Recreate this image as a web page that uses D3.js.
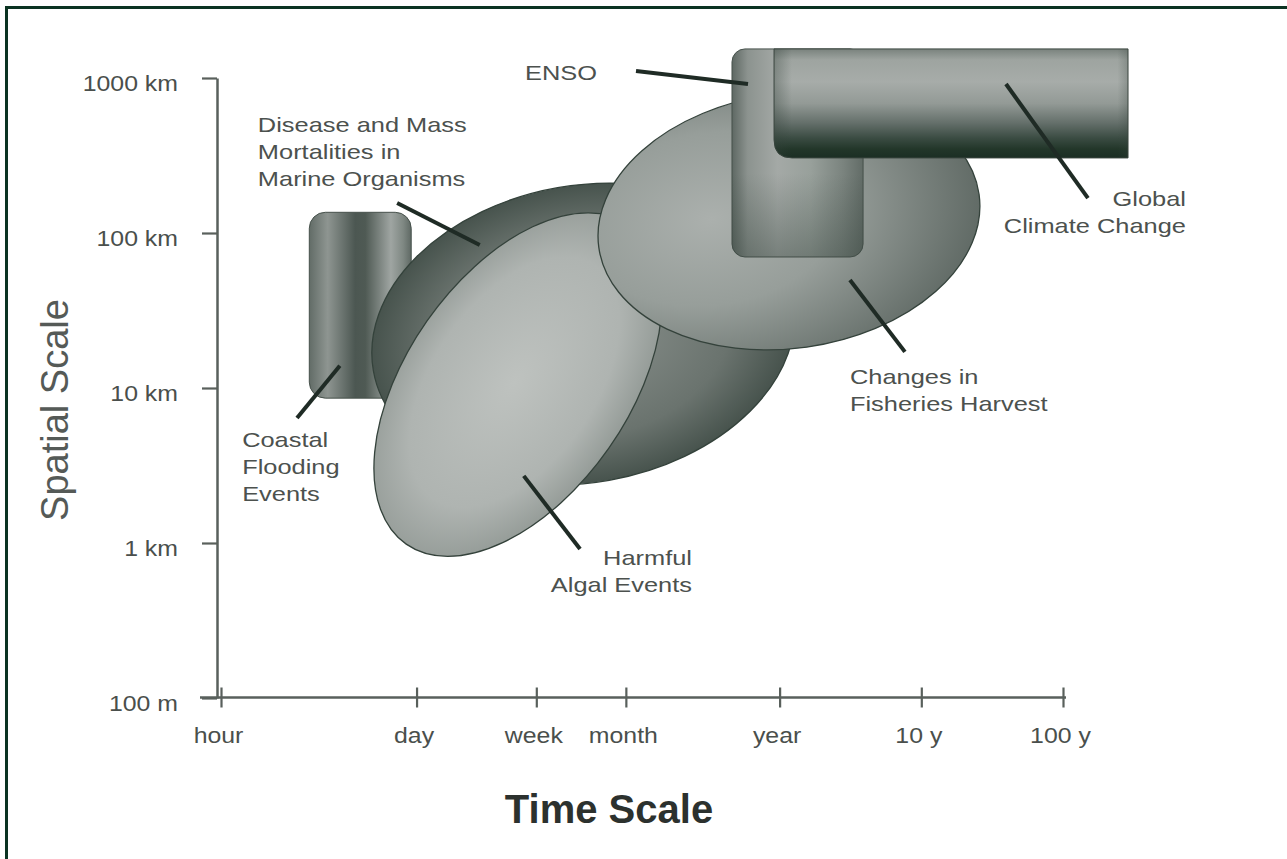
<!DOCTYPE html>
<html>
<head>
<meta charset="utf-8">
<title>Time and space scales of marine events</title>
<script src="https://cdn.jsdelivr.net/npm/d3@7/dist/d3.min.js"></script>
<style>
	body { margin: 0; background: #fff; }
	svg text { font-family: "Liberation Sans", Arial, Helvetica, sans-serif; }
</style>
</head>
<body>
<svg id="chart"></svg>
<script>

// axis ticks: time in hours, space in km
var timeTicks = ['hour', 'day', 'week', 'month', 'year', '10 y', '100 y'];
var timeTickHours = [1, 24, 168, 720, 8760, 87600, 876000];
var spaceTicks = ['1000 km', '100 km', '10 km', '1 km', '100 m'];
var spaceTickKm = [1000, 100, 10, 1, 0.1];

// phenomena, in drawing order (back to front)
var phenomena = ['Coastal Flooding Events', 'Disease and Mass Mortalities in Marine Organisms', 'Harmful Algal Events', 'Changes in Fisheries Harvest', 'ENSO', 'Global Climate Change'];
var shapeKind = ['rect', 'ellipse', 'ellipse', 'ellipse', 'rect', 'bar'];
var timeExtent = [[4.2, 22], [11.6, 11240], [12, 1295], [458, 227000], [4040, 34000], [8000, 2520000]];
var spaceExtent = [[8.6, 136], [2.37, 210], [0.82, 135], [17.6, 812], [70, 1540], [305, 1540]];
var tilt = [0, -10, -55, -8, 0, 0];

// annotation text and leaders, also in hours / km
var labelLines = [['Coastal', 'Flooding', 'Events'], ['Disease and Mass', 'Mortalities in', 'Marine Organisms'], ['Harmful', 'Algal Events'], ['Changes in', 'Fisheries Harvest'], ['ENSO'], ['Global', 'Climate Change']];
var labelAt = [[1.41, 4.16], [1.82, 449], [2109, 0.721], [27480, 10.6], [140, 971], [6460000, 149]];
var labelAnchor = ['start', 'start', 'end', 'start', 'start', 'end'];
var leaderFrom = [[6.9, 13.9], [67, 83.7], [137, 2.71], [27480, 49.8], [5240, 915], [346700, 915]];
var leaderTo = [[3.44, 6.4], [17.5, 156], [342, 0.914], [67140, 17.1], [849, 1110], [1314000, 168]];

var chart = {

	settings: {
		width: 1287,
		height: 859,
		tickStretch: 1.13,
		labelStretch: 1.21,
		lineHeight: 27
	},

	init: function() {
		this.svg = d3.select('#chart')
			.attr('width', this.settings.width)
			.attr('height', this.settings.height);

		this.x = d3.scaleLog().domain([1, 876000]).range([221, 1063]);
		this.y = d3.scaleLog().domain([0.1, 1000]).range([698, 78]);

		this.frame();
		this.axes();
		this.shapes();
		this.labels();
	},

	frame: function() {
		let s = this.settings;
		this.svg.append('rect').attr('x', 5).attr('y', 6).attr('width', s.width - 5).attr('height', 3).attr('fill', '#0b3322');
		this.svg.append('rect').attr('x', 5).attr('y', 6).attr('width', 3).attr('height', s.height - 6).attr('fill', '#0b3322');
	},

	axes: function() {
		let self = this;
		let stretch = this.settings.tickStretch;
		let axisX = 217, axisY = 697.5;

		// 1. spatial axis
		let gy = this.svg.append('g')
			.attr('transform', 'translate(' + axisX + ',0)')
			.call(d3.axisLeft(this.y).tickValues(spaceTickKm).tickSize(15).tickSizeOuter(0)
				.tickFormat(function(d, i) { return spaceTicks[i]; }));

		gy.select('.domain').attr('stroke', '#59605c').attr('stroke-width', 2.5);
		gy.selectAll('.tick line').attr('stroke', '#59605c').attr('stroke-width', 2.2);
		gy.selectAll('.tick text')
			.attr('x', null).attr('dy', null)
			.attr('transform', 'translate(-39,12) scale(' + stretch + ',1)')
			.attr('font-size', 22).attr('fill', '#4a4f4c');

		// 2. time axis, ticks cross the line
		let gx = this.svg.append('g')
			.attr('transform', 'translate(0,' + axisY + ')')
			.call(d3.axisBottom(this.x).tickValues(timeTickHours).tickSize(10)
				.tickFormat(function(d, i) { return timeTicks[i]; }));

		gx.select('.domain').remove();
		gx.insert('line', ':first-child')
			.attr('x1', axisX - 17).attr('x2', this.x(876000) + 3)
			.attr('stroke', '#59605c').attr('stroke-width', 2.5);
		gx.selectAll('.tick line').attr('y1', -10).attr('y2', 10).attr('stroke', '#59605c').attr('stroke-width', 2.2);
		gx.selectAll('.tick text')
			.attr('y', null).attr('dy', null)
			.attr('transform', 'translate(-3,45) scale(' + stretch + ',1)')
			.attr('font-size', 22).attr('fill', '#4a4f4c');

		// 3. axis titles
		this.svg.append('text')
			.attr('transform', 'translate(68,410) rotate(-90)')
			.attr('text-anchor', 'middle')
			.attr('font-size', 38).attr('fill', '#555a57')
			.text('Spatial Scale');

		this.svg.append('text')
			.attr('x', 609).attr('y', 823)
			.attr('text-anchor', 'middle')
			.attr('font-size', 40).attr('font-weight', 'bold').attr('fill', '#2c312e')
			.text('Time Scale');
	},

	shapes: function() {
		let self = this;
		let defs = this.svg.append('defs');

		let linear = function(id, vertical, stops) {
			let g = defs.append('linearGradient').attr('id', id);
			if (vertical) g.attr('x1', 0).attr('y1', 0).attr('x2', 0).attr('y2', 1);
			stops.forEach(function(s) {
				g.append('stop').attr('offset', s[0]).attr('stop-color', s[1]).attr('stop-opacity', s.length > 2 ? s[2] : 1);
			});
		};
		let radial = function(id, c, stops) {
			let g = defs.append('radialGradient').attr('id', id)
				.attr('cx', c[0]).attr('cy', c[1]).attr('r', c[2]).attr('fx', c[0]).attr('fy', c[1]);
			stops.forEach(function(s) {
				g.append('stop').attr('offset', s[0]).attr('stop-color', s[1]);
			});
		};

		linear('shade-0', false, [[0, '#626c67'], [0.18, '#8e9591'], [0.45, '#4c5752'], [0.55, '#4f5a54'], [0.8, '#9fa5a2'], [0.92, '#7f8883'], [1, '#5f6964']]);
		radial('shade-1', [0.5, 0.5, 0.5], [[0, '#8b928e'], [0.7, '#6a736e'], [1, '#47534d']]);
		radial('shade-2', [0.5, 0.48, 0.52], [[0, '#bec2bf'], [0.7, '#afb4b1'], [1, '#959c98']]);
		radial('shade-3', [0.3, 0.45, 0.75], [[0, '#abb0ad'], [0.45, '#979e9a'], [1, '#5b6560']]);
		linear('shade-4', false, [[0, '#5e6863'], [0.12, '#8c938f'], [0.35, '#a4a9a6'], [0.6, '#98a09b'], [0.85, '#7a837e'], [1, '#626c67']]);
		linear('shade-4b', true, [[0, '#34423b', 0], [0.6, '#34423b', 0], [1, '#34423b', 0.4]]);
		linear('shade-5', true, [[0, '#79827d'], [0.1, '#9ea4a0'], [0.3, '#a7aca9'], [0.5, '#939a96'], [0.68, '#646f6a'], [0.82, '#3a4b42'], [0.92, '#223629'], [1, '#1b2e24']]);
		linear('shade-5b', false, [[0, '#34423b', 0.35], [0.05, '#34423b', 0], [0.97, '#34423b', 0], [1, '#34423b', 0.25]]);

		phenomena.forEach(function(name, i) {
			let x0 = self.x(timeExtent[i][0]), x1 = self.x(timeExtent[i][1]);
			let y0 = self.y(spaceExtent[i][1]), y1 = self.y(spaceExtent[i][0]);
			let g = self.svg.append('g').attr('class', 'shape').attr('data-name', name);

			if (shapeKind[i] === 'ellipse') {
				// ellipse that fits the time/space box at the given tilt
				let cx = (x0 + x1) / 2, cy = (y0 + y1) / 2;
				let w = (x1 - x0) / 2, h = (y1 - y0) / 2;
				let t = tilt[i] * Math.PI / 180;
				let c2 = Math.cos(t) * Math.cos(t), s2 = Math.sin(t) * Math.sin(t);
				let a = Math.sqrt((w * w * c2 - h * h * s2) / (c2 - s2));
				let b = Math.sqrt((h * h * c2 - w * w * s2) / (c2 - s2));
				g.append('ellipse')
					.attr('cx', cx).attr('cy', cy).attr('rx', a).attr('ry', b)
					.attr('transform', 'rotate(' + tilt[i] + ',' + cx + ',' + cy + ')')
					.attr('fill', 'url(#shade-' + i + ')')
					.attr('stroke', '#34423b').attr('stroke-width', 1.3);
			} else if (shapeKind[i] === 'rect') {
				let r = i === 0 ? 16 : 13;
				g.append('rect')
					.attr('x', x0).attr('y', y0).attr('width', x1 - x0).attr('height', y1 - y0).attr('rx', r)
					.attr('fill', 'url(#shade-' + i + ')')
					.attr('stroke', '#46514b').attr('stroke-width', 1);
				if (i === 4) {
					g.append('rect')
						.attr('x', x0).attr('y', y0).attr('width', x1 - x0).attr('height', y1 - y0).attr('rx', r)
						.attr('fill', 'url(#shade-4b)');
				}
			} else {
				// open-ended bar: only the lower left corner is rounded
				let r = 18;
				let d = 'M' + x0 + ',' + y0 + 'H' + x1 + 'V' + y1 + 'H' + (x0 + r) +
					'Q' + x0 + ',' + y1 + ' ' + x0 + ',' + (y1 - r) + 'Z';
				g.append('path').attr('d', d).attr('fill', 'url(#shade-' + i + ')')
					.attr('stroke', '#3a463f').attr('stroke-width', 1);
				g.append('path').attr('d', d).attr('fill', 'url(#shade-5b)');
			}
		});
	},

	labels: function() {
		let self = this;
		let s = this.settings;

		phenomena.forEach(function(name, i) {
			self.svg.append('line')
				.attr('x1', self.x(leaderFrom[i][0])).attr('y1', self.y(leaderFrom[i][1]))
				.attr('x2', self.x(leaderTo[i][0])).attr('y2', self.y(leaderTo[i][1]))
				.attr('stroke', '#1f2b25').attr('stroke-width', 4);

			let lx = self.x(labelAt[i][0]), ly = self.y(labelAt[i][1]);
			labelLines[i].forEach(function(line, j) {
				self.svg.append('text')
					.attr('transform', 'translate(' + lx + ',' + (ly + j * s.lineHeight) + ') scale(' + s.labelStretch + ',1)')
					.attr('text-anchor', labelAnchor[i])
					.attr('font-size', 21).attr('fill', '#4c514e')
					.text(line);
			});
		});
	}
};

chart.init();

</script>
</body>
</html>
